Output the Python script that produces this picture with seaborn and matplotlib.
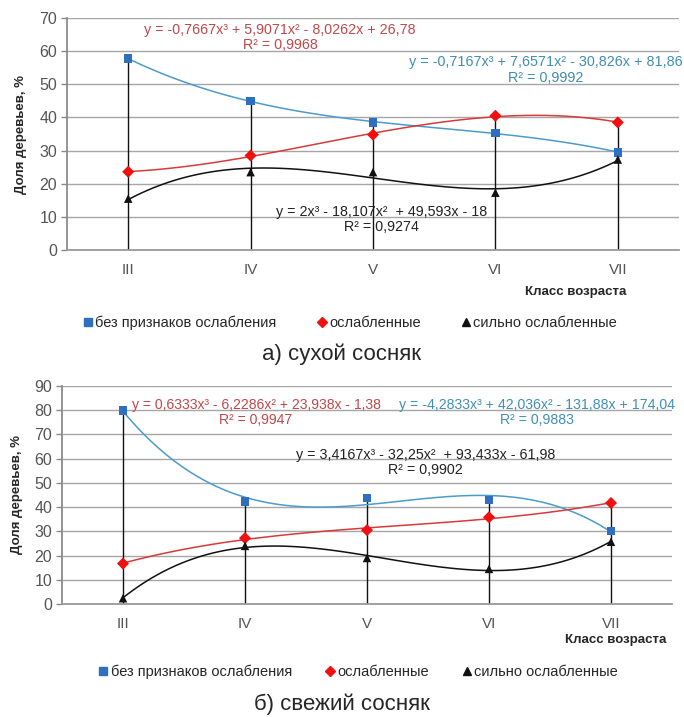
import numpy as np
import pandas as pd
import matplotlib
matplotlib.use("Agg")
import matplotlib.pyplot as plt
from matplotlib.lines import Line2D
import seaborn as sns

# ---------------- data ----------------
classes = ["III", "IV", "V", "VI", "VII"]
series_names = ["без признаков ослабления", "ослабленные", "сильно ослабленные"]

dry_none = [57.7, 45.0, 38.5, 35.3, 29.5]
dry_weak = [23.6, 28.5, 34.8, 40.5, 38.5]
dry_strong = [15.5, 23.5, 23.5, 17.3, 27.3]

fresh_none = [80.0, 42.3, 43.7, 43.0, 30.2]
fresh_weak = [16.7, 27.2, 30.5, 35.8, 41.7]
fresh_strong = [2.4, 24.0, 19.0, 14.5, 25.7]

dry_eqs = ["y = -0,7667x³ + 5,9071x² - 8,0262x + 26,78\nR² = 0,9968",
           "y = -0,7167x³ + 7,6571x² - 30,826x + 81,86\nR² = 0,9992",
           "y = 2x³ - 18,107x²  + 49,593x - 18\nR² = 0,9274"]
fresh_eqs = ["y = 0,6333x³ - 6,2286x² + 23,938x - 1,38\nR² = 0,9947",
             "y = -4,2833x³ + 42,036x² - 131,88x + 174,04\nR² = 0,9883",
             "y = 3,4167x³ - 32,25x²  + 93,433x - 61,98\nR² = 0,9902"]

captions = ["а) сухой сосняк", "б) свежий сосняк"]
ylabel = "Доля деревьев, %"
xlabel = "Класс возраста"

# ---------------- style ----------------
sns.set_theme(style="white")
plt.rcParams["font.family"] = ["Liberation Sans", "DejaVu Sans"]

C_BLUE_LINE = "#4b9ccb"
C_BLUE_MK = "#2f6fbf"
C_RED_LINE = "#d83a3c"
C_RED_MK = "#f01010"
C_BLACK = "#111111"
C_RED_TXT = "#c0474a"
C_BLUE_TXT = "#3f8fb3"
C_GRID = "#a6a6a6"
C_TICK = "#555555"

fig = plt.figure(figsize=(6.84, 7.17), dpi=100)
W, H = 684.0, 717.0

def px_axes(l, r, t, b):
    return fig.add_axes([l / W, 1 - b / H, (r - l) / W, (b - t) / H])

def draw_panel(ax, none_v, weak_v, strong_v, ymax, eqs, eq_pos):
    x = np.arange(1, len(classes) + 1)
    df = pd.DataFrame({"x": np.tile(x, 3),
                       "y": none_v + weak_v + strong_v,
                       "s": np.repeat(series_names, len(x))})
    ax.set_ylim(0, ymax)
    ax.set_xlim(0.5, len(classes) + 0.5)
    ax.set_yticks(np.arange(0, ymax + 1, 10))
    ax.yaxis.grid(True, color=C_GRID, lw=1.0)
    ax.xaxis.grid(False)
    ax.set_axisbelow(True)
    # drop lines
    tops = np.max(np.vstack([none_v, weak_v, strong_v]), axis=0)
    ax.vlines(x, 0, tops, color=C_BLACK, lw=1.0, zorder=2)
    # cubic trend lines
    for vals, col in [(none_v, C_BLUE_LINE), (weak_v, C_RED_LINE), (strong_v, C_BLACK)]:
        sns.regplot(x=x, y=np.array(vals), order=3, ci=None, scatter=False,
                    line_kws=dict(color=col, lw=1.1, zorder=3), ax=ax)
    # markers
    sns.scatterplot(data=df, x="x", y="y", hue="s", style="s",
                    palette=[C_BLUE_MK, C_RED_MK, C_BLACK],
                    markers=["s", "D", "^"], s=38, edgecolor="none",
                    legend=False, zorder=4, ax=ax)
    ax.set_xlabel("")
    ax.set_ylabel("")
    ax.set_xticks(x)
    ax.set_xticklabels(classes, fontsize=11, color=C_TICK)
    for lab in ax.get_yticklabels():
        lab.set_fontsize(11.5)
        lab.set_color(C_TICK)
    ax.tick_params(axis="y", which="both", left=True, length=4, width=1,
                   color="#888888", pad=3)
    ax.tick_params(axis="x", which="both", bottom=False, pad=3)
    for side in ["top", "right"]:
        ax.spines[side].set_visible(False)
    ax.spines["left"].set_color("#888888")
    ax.spines["bottom"].set_color("#999999")
    ax.spines["bottom"].set_linewidth(1.3)
    cols = [C_RED_TXT, C_BLUE_TXT, "#222222"]
    for txt, (ex, ey, fs), col in zip(eqs, eq_pos, cols):
        ax.text(ex, ey, txt, color=col, fontsize=fs,
                ha="center", va="center", linespacing=1.1, zorder=5)

def legend_and_caption(y_leg, x_leg, y_cap, caption, y_xl, x_xl, colsp):
    handles = [Line2D([], [], ls="none", marker="s", color=C_BLUE_MK, ms=6),
               Line2D([], [], ls="none", marker="D", color=C_RED_MK, ms=5),
               Line2D([], [], ls="none", marker="^", color=C_BLACK, ms=6)]
    fig.legend(handles, series_names, loc="center", ncol=3, frameon=False,
               bbox_to_anchor=(x_leg / W, 1 - y_leg / H), handletextpad=0.0,
               columnspacing=colsp, handlelength=1.0,
               prop=dict(size=10.5))
    fig.text(0.5, 1 - y_cap / H, caption, ha="center", va="center",
             fontsize=16)
    fig.text(x_xl / W, 1 - y_xl / H, xlabel, ha="right", va="center",
             fontsize=9.5, fontweight="bold")

# top panel
ax1 = px_axes(67, 679, 18, 250)
draw_panel(ax1, dry_none, dry_weak, dry_strong, 70, dry_eqs,
           [(2.24, 64.1, 10.3), (4.41, 54.3, 10.4), (3.07, 9.2, 10.3)])
fig.text(21 / W, 1 - 134 / H, ylabel, rotation=90, ha="center", va="center",
         fontsize=9.5, fontweight="bold")
legend_and_caption(323, 349, 354, captions[0], 292, 626, 2.6)

# bottom panel
ax2 = px_axes(62, 672, 386, 604)
draw_panel(ax2, fresh_none, fresh_weak, fresh_strong, 90, fresh_eqs,
           [(2.09, 79.1, 10.1), (4.39, 79.1, 10.2), (3.48, 58.4, 10.3)])
fig.text(17 / W, 1 - 495 / H, ylabel, rotation=90, ha="center", va="center",
         fontsize=9.5, fontweight="bold")
legend_and_caption(672, 357, 704, captions[1], 640, 666, 2.1)

fig.savefig("out.png", dpi=100)
